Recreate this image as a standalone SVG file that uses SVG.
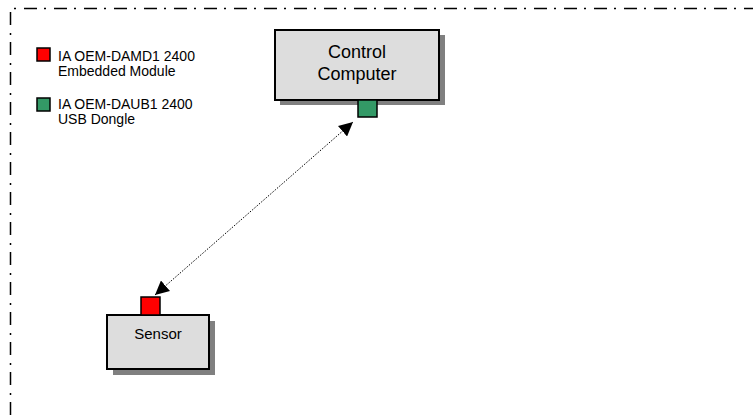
<svg xmlns="http://www.w3.org/2000/svg" width="753" height="415" viewBox="0 0 753 415">
<defs>
<style>
.t{font-family:"Liberation Sans",Arial,sans-serif;fill:#000}
.box{fill:#dddddd;stroke:#000;stroke-width:2}
.shadow{fill:#808080}
.port{stroke:#000;stroke-width:1.5}
.border{fill:none;stroke:#000;stroke-width:1.5;stroke-dasharray:13 7 2 8}
.conn{fill:none;stroke:#000;stroke-width:1;stroke-dasharray:1.5 1.5}
</style>
<marker id="arr" viewBox="0 0 10 10" refX="10" refY="5" markerWidth="14" markerHeight="14" markerUnits="userSpaceOnUse" orient="auto-start-reverse">
<path d="M0,0 L10,5 L0,10 z" fill="#000"/>
</marker>
</defs>
<path class="border" d="M10.5,415 V8.5 H753"/>
<g id="legend">
<rect x="37" y="48" width="13" height="13" fill="#ff0000" class="port"/>
<text class="t" x="58" y="61" font-size="14">IA OEM-DAMD1 2400</text>
<text class="t" x="58" y="76" font-size="14">Embedded Module</text>
<rect x="37" y="98" width="13" height="13" fill="#339966" class="port"/>
<text class="t" x="58" y="109" font-size="14">IA OEM-DAUB1 2400</text>
<text class="t" x="58" y="124" font-size="14">USB Dongle</text>
</g>
<g id="control-computer">
<rect class="shadow" x="280" y="35" width="165" height="70"/>
<rect class="box" x="275" y="30" width="164" height="70"/>
<text class="t" x="357" y="58" font-size="18" text-anchor="middle">Control</text>
<text class="t" x="357" y="80" font-size="18" text-anchor="middle">Computer</text>
<rect x="358" y="100" width="19" height="17" fill="#339966" class="port"/>
</g>
<g id="sensor">
<rect class="shadow" x="113" y="321" width="102" height="54"/>
<rect class="box" x="107" y="315" width="102" height="54"/>
<text class="t" x="158" y="339" font-size="15" text-anchor="middle">Sensor</text>
<rect x="141" y="297" width="19" height="18" fill="#ff0000" class="port"/>
</g>
<g id="connectors">
<line class="conn" x1="155" y1="295" x2="353" y2="122" marker-start="url(#arr)" marker-end="url(#arr)"/>
</g>
</svg>
